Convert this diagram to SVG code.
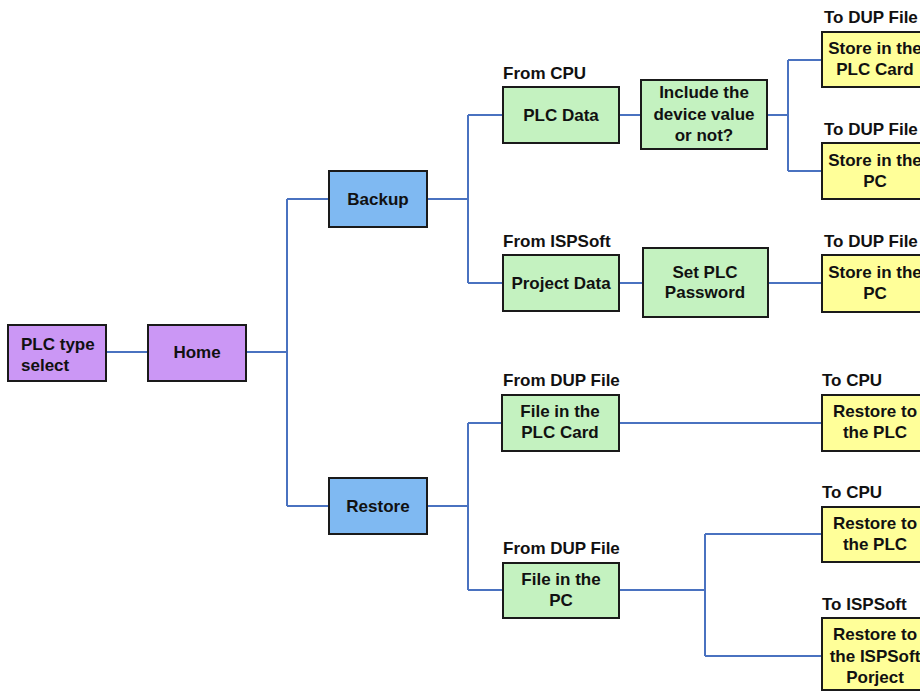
<svg xmlns="http://www.w3.org/2000/svg" width="920" height="695" viewBox="0 0 920 695">
<style>
.box{stroke:#1a1a1a;stroke-width:2}
.p{fill:#CB97F5}
.b{fill:#7FB9F2}
.g{fill:#C4F2C0}
.y{fill:#FFFF99}
text{font-family:"Liberation Sans",Arial,sans-serif;font-weight:bold;font-size:17px;fill:#111}
.c{text-anchor:middle}
.conn{fill:none;stroke:#4A72C0;stroke-width:2}
</style>
<rect width="920" height="695" fill="#ffffff"/>
<g id="connectors" class="conn">
<path d="M106 352H148"/>
<path d="M246 352H287M287 199V506M287 199H329M287 506H329"/>
<path d="M427 199H468M468 115V283M468 115H503M468 283H503"/>
<path d="M619 115H641"/>
<path d="M767 115H788M788 60V171M788 60H822M788 171H822"/>
<path d="M619 283H643"/>
<path d="M768 283H822"/>
<path d="M427 506H468M468 423V590M468 423H502M468 590H503"/>
<path d="M619 423H822"/>
<path d="M619 590H705M705 534V656M705 534H822M705 656H822"/>
</g>
<g id="plc-type-select">
<rect class="box p" x="8" y="325" width="98" height="56"/>
<text x="21" y="350">PLC type</text>
<text x="21" y="371">select</text>
</g>
<g id="home">
<rect class="box p" x="148" y="325" width="98" height="56"/>
<text class="c" x="197" y="358">Home</text>
</g>
<g id="backup">
<rect class="box b" x="329" y="171" width="98" height="56"/>
<text class="c" x="378" y="205">Backup</text>
</g>
<g id="restore">
<rect class="box b" x="329" y="478" width="98" height="56"/>
<text class="c" x="378" y="512">Restore</text>
</g>
<g id="plc-data">
<text x="503" y="79">From CPU</text>
<rect class="box g" x="503" y="87" width="116" height="56"/>
<text class="c" x="561" y="121">PLC Data</text>
</g>
<g id="include-device">
<rect class="box g" x="641" y="80" width="126" height="69"/>
<text class="c" x="704" y="98">Include the</text>
<text class="c" x="704" y="120">device value</text>
<text class="c" x="704" y="141">or not?</text>
</g>
<g id="project-data">
<text x="503" y="247">From ISPSoft</text>
<rect class="box g" x="503" y="255" width="116" height="56"/>
<text class="c" x="561" y="289">Project Data</text>
</g>
<g id="set-password">
<rect class="box g" x="643" y="248" width="125" height="69"/>
<text class="c" x="705" y="278">Set PLC</text>
<text class="c" x="705" y="298">Password</text>
</g>
<g id="store-card">
<text x="824" y="23">To DUP File</text>
<rect class="box y" x="822" y="32" width="106" height="55"/>
<text class="c" x="875" y="54">Store in the</text>
<text class="c" x="875" y="75">PLC Card</text>
</g>
<g id="store-pc-1">
<text x="824" y="135">To DUP File</text>
<rect class="box y" x="822" y="143" width="106" height="56"/>
<text class="c" x="875" y="166">Store in the</text>
<text class="c" x="875" y="187">PC</text>
</g>
<g id="store-pc-2">
<text x="824" y="247">To DUP File</text>
<rect class="box y" x="822" y="255" width="106" height="57"/>
<text class="c" x="875" y="278">Store in the</text>
<text class="c" x="875" y="299">PC</text>
</g>
<g id="file-card">
<text x="503" y="386">From DUP File</text>
<rect class="box g" x="502" y="395" width="117" height="56"/>
<text class="c" x="560" y="417">File in the</text>
<text class="c" x="560" y="438">PLC Card</text>
</g>
<g id="file-pc">
<text x="503" y="554">From DUP File</text>
<rect class="box g" x="503" y="563" width="116" height="55"/>
<text class="c" x="561" y="585">File in the</text>
<text class="c" x="561" y="606">PC</text>
</g>
<g id="restore-plc-1">
<text x="822" y="386">To CPU</text>
<rect class="box y" x="822" y="395" width="106" height="56"/>
<text class="c" x="875" y="417">Restore to</text>
<text class="c" x="875" y="438">the PLC</text>
</g>
<g id="restore-plc-2">
<text x="822" y="498">To CPU</text>
<rect class="box y" x="822" y="507" width="106" height="55"/>
<text class="c" x="875" y="529">Restore to</text>
<text class="c" x="875" y="550">the PLC</text>
</g>
<g id="restore-ispsoft">
<text x="822" y="610">To ISPSoft</text>
<rect class="box y" x="822" y="618" width="106" height="72"/>
<text class="c" x="875" y="640">Restore to</text>
<text class="c" x="875" y="662">the ISPSoft</text>
<text class="c" x="875" y="683">Porject</text>
</g>
</svg>
